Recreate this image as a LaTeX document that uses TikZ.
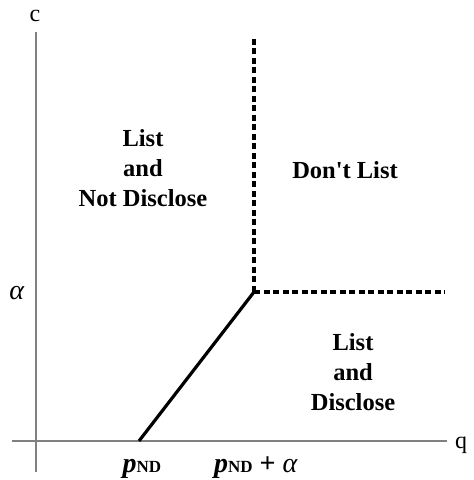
\documentclass[tikz,border=0pt]{standalone}
\usepackage{fontspec}
\setmainfont{Liberation Serif}[Ligatures=TeXOff]
\begin{document}
\begin{tikzpicture}[x=1pt,y=1pt,
  axis/.style={draw=gray, line width=1.4pt},
  bound/.style={line width=3.2pt},
  dashbound/.style={line width=3.2pt, dash pattern=on 6pt off 3.5pt},
  region/.style={font=\fontsize{24.5}{30}\selectfont\bfseries, align=center},
  lab/.style={font=\fontsize{24}{28}\selectfont, inner sep=0pt, anchor=base},
  plab/.style={font=\fontsize{28}{30}\selectfont\bfseries, inner sep=0pt, anchor=base}]
\useasboundingbox (0,0) rectangle (474,480);
% axes
\coordinate (ytop) at (36,448);
\coordinate (ybot) at (36,8);
\coordinate (xl) at (12,39);
\coordinate (xr) at (447,39);
\draw[axis] (ybot) -- (ytop);
\draw[axis] (xl) -- (xr);
\node[lab] (c) at (35,458) {c};
\node[lab] (q) at (461,31) {q};
\node[lab, font=\fontsize{28}{30}\selectfont] (alpha) at (17,180) {\textit{α}};
% boundaries
\coordinate (kink) at (254,188);
\coordinate (foot) at (139,39);
\coordinate (vtop) at (254,443);
\coordinate (hend) at (445,188);
\draw[bound] (foot) -- (kink);
\draw[dashbound] (kink) -- (vtop);
\draw[dashbound] (kink) -- (hend);
\node[plab] (pnd) at (142,8) {\textit{p}{\fontsize{17}{17}\selectfont ND}};
\node[plab] (pnda) at (256,8) {\textit{p}{\fontsize{17}{17}\selectfont ND} + \textit{\mdseries α}};
% regions
\node[region] (lnd) at (143,312) {List\\and\\Not Disclose};
\node[region] (dl) at (345,310) {Don't List};
\node[region] (ld) at (353,108) {List\\and\\Disclose};
\end{tikzpicture}
\end{document}
